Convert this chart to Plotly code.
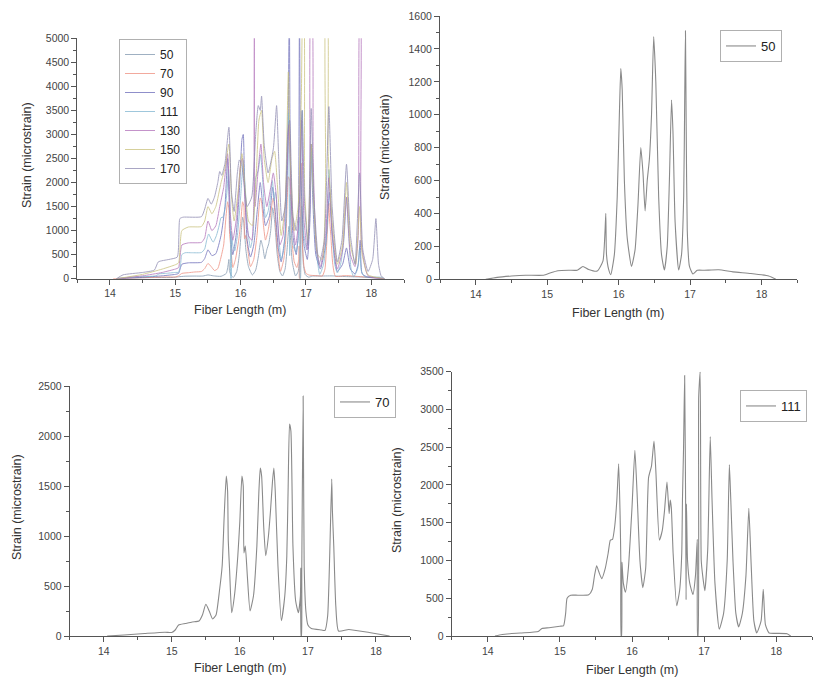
import plotly.graph_objects as go

# ---------------- data ----------------
series_names = ["50", "70", "90", "111", "130", "150", "170"]
series_colors = ["#7f95ad", "#ee8c7c", "#6a6ab8", "#7fb4d0", "#b06fb8", "#c8c07a", "#8c88b0"]

fiber_50 = [(14.14,0),(14.3,12),(14.5,20),(14.7,25),(14.95,25),(15.05,40),(15.15,52),(15.3,55),(15.42,55),
    (15.5,78),(15.58,60),(15.7,50),(15.78,110),(15.81,300),(15.82,400),(15.83,150),(15.86,60),(15.89,28),
    (15.94,150),(15.98,500),(16.01,1000),(16.03,1280),(16.05,1150),(16.08,600),(16.12,250),(16.18,78),
    (16.23,180),(16.27,450),(16.31,800),(16.34,650),(16.37,415),(16.40,600),(16.43,730),(16.46,1000),
    (16.49,1475),(16.52,1200),(16.56,500),(16.60,150),(16.64,57),(16.68,200),(16.71,600),(16.74,1090),
    (16.76,900),(16.79,350),(16.84,57),(16.88,150),(16.91,500),(16.925,1120),(16.935,1510),(16.945,940),
    (16.96,300),(16.99,80),(17.04,32),(17.1,55),(17.2,55),(17.4,58),(17.6,45),(17.85,35),(18.1,20),(18.2,0)]

fiber_70 = [(14.05,0),(14.3,10),(14.6,25),(14.9,38),(15.0,35),(15.05,60),(15.1,110),(15.2,125),(15.3,140),
    (15.4,150),(15.45,210),(15.5,317),(15.55,250),(15.6,170),(15.65,210),(15.7,450),(15.74,700),(15.77,1200),
    (15.80,1600),(15.82,1450),(15.83,950),(15.85,650),(15.88,233),(15.92,400),(15.97,800),(16.0,1150),
    (16.03,1600),(16.05,1500),(16.06,830),(16.08,900),(16.11,600),(16.15,250),(16.2,400),(16.25,900),
    (16.28,1450),(16.30,1680),(16.32,1600),(16.35,1100),(16.38,803),(16.42,1000),(16.45,1250),(16.48,1550),
    (16.50,1680),(16.52,1450),(16.56,700),(16.61,153),(16.66,400),(16.69,800),(16.71,1500),(16.73,2120),
    (16.75,2050),(16.78,900),(16.82,350),(16.86,233),(16.89,400),(16.895,680),(16.90,0),(16.905,0),
    (16.91,650),(16.93,2400),(16.945,700),(16.97,250),(17.0,110),(17.05,75),(17.2,60),(17.25,55),(17.29,200),
    (17.32,800),(17.35,1570),(17.36,1250),(17.38,900),(17.41,300),(17.45,50),(17.6,65),(17.9,35),(18.2,0)]

fiber_90 = [(14.1,0),(14.5,30),(14.8,60),(15.0,90),(15.05,110),(15.1,300),(15.2,330),(15.4,340),(15.45,420),
    (15.5,600),(15.56,480),(15.62,520),(15.7,900),(15.76,1500),(15.8,2500),(15.84,1000),(15.88,500),(15.93,900),
    (15.98,1800),(16.02,2900),(16.04,3000),(16.06,2000),(16.1,800),(16.15,450),(16.2,700),(16.26,1500),
    (16.3,2000),(16.34,1500),(16.38,1100),(16.44,1300),(16.49,1900),(16.53,1400),(16.58,600),(16.62,350),
    (16.68,900),(16.72,2500),(16.745,5600),(16.76,2500),(16.8,900),(16.85,500),(16.88,900),(16.9,5600),
    (16.915,2500),(16.93,1800),(16.97,700),(17.02,400),(17.06,1200),(17.08,2800),(17.1,1800),(17.15,500),
    (17.22,200),(17.3,700),(17.34,1500),(17.36,1800),(17.4,900),(17.48,150),(17.56,300),(17.62,640),
    (17.68,200),(17.75,100),(17.8,300),(17.83,800),(17.86,100),(17.95,30),(18.2,0)]

fiber_111 = [(14.10,0),(14.20,20),(14.45,40),(14.70,60),(14.75,100),(14.85,110),(15.00,130),(15.05,135),
    (15.08,300),(15.10,500),(15.15,540),(15.25,540),(15.40,545),(15.45,620),(15.48,800),(15.51,930),(15.54,850),
    (15.58,760),(15.63,900),(15.67,1100),(15.70,1270),(15.73,1280),(15.76,1450),(15.79,1800),(15.815,2280),
    (15.835,1600),(15.845,1000),(15.85,0),(15.855,0),(15.86,980),(15.88,700),(15.91,580),(15.95,900),
    (16.00,1700),(16.04,2460),(16.07,1900),(16.11,1000),(16.15,640),(16.19,900),(16.23,2100),(16.27,2250),
    (16.305,2580),(16.33,2200),(16.38,1270),(16.42,1400),(16.45,1650),(16.485,2040),(16.515,1620),(16.53,1800),
    (16.545,1700),(16.57,1100),(16.62,400),(16.66,600),(16.69,1100),(16.70,1820),(16.715,2500),(16.73,3450),
    (16.745,1500),(16.75,480),(16.755,1750),(16.77,1000),(16.80,700),(16.845,550),(16.88,800),(16.905,1280),
    (16.91,0),(16.915,0),(16.925,3170),(16.945,3500),(16.96,1000),(16.98,800),(17.01,600),(17.05,1150),
    (17.085,2640),(17.11,1800),(17.15,700),(17.21,90),(17.27,300),(17.32,1000),(17.35,2270),(17.37,1800),
    (17.40,1000),(17.44,300),(17.48,120),(17.53,300),(17.58,800),(17.62,1690),(17.65,1000),(17.69,200),
    (17.73,40),(17.79,200),(17.82,620),(17.85,150),(17.90,40),(18.00,35),(18.15,30),(18.20,0)]

fiber_130 = [(14.1,0),(14.5,60),(14.8,130),(15.0,200),(15.05,230),(15.1,700),(15.2,745),(15.4,755),(15.45,850),
    (15.5,1200),(15.56,1000),(15.62,1100),(15.68,1500),(15.74,1900),(15.8,2600),(15.84,1400),(15.88,800),
    (15.94,1300),(16.0,2400),(16.03,2500),(16.07,1500),(16.12,900),(16.17,800),(16.2,1500),(16.21,5600),
    (16.22,1500),(16.27,2300),(16.31,2800),(16.35,2000),(16.4,1500),(16.46,1900),(16.5,2200),(16.54,1800),
    (16.6,700),(16.65,900),(16.7,2000),(16.74,3200),(16.78,1500),(16.84,700),(16.89,1200),(16.93,3300),
    (16.97,1200),(17.02,600),(17.06,1500),(17.075,5600),(17.09,5600),(17.11,2500),(17.16,600),(17.22,250),
    (17.3,900),(17.35,2100),(17.4,1000),(17.48,200),(17.56,600),(17.62,1700),(17.68,500),(17.75,250),
    (17.8,900),(17.825,5600),(17.835,5600),(17.85,700),(17.95,60),(18.2,0)]

fiber_150 = [(14.1,0),(14.5,90),(14.8,200),(15.0,290),(15.05,330),(15.1,1000),(15.2,1075),(15.4,1085),
    (15.45,1200),(15.5,1500),(15.56,1350),(15.62,1500),(15.7,2000),(15.76,2300),(15.82,2800),(15.86,1700),
    (15.9,1200),(15.96,1800),(16.02,2600),(16.06,2000),(16.12,1200),(16.18,1100),(16.24,2200),(16.28,3300),
    (16.32,3500),(16.36,2500),(16.42,2000),(16.48,2500),(16.52,2650),(16.56,2000),(16.62,900),(16.68,1500),
    (16.73,4300),(16.76,2500),(16.82,1000),(16.88,1500),(16.93,3900),(16.955,5600),(16.965,5600),(16.98,1800),
    (17.03,800),(17.08,2800),(17.12,1500),(17.18,500),(17.25,400),(17.3,2000),(17.305,5600),(17.325,5600),
    (17.34,2600),(17.4,1200),(17.48,300),(17.56,700),(17.62,2000),(17.68,700),(17.76,300),(17.82,1500),
    (17.86,500),(17.95,80),(18.2,0)]

fiber_170 = [(14.1,0),(14.2,80),(14.5,130),(14.68,180),(14.74,350),(14.9,400),(15.03,450),(15.07,1250),
    (15.12,1280),(15.4,1290),(15.45,1450),(15.5,1670),(15.55,1550),(15.6,1700),(15.65,2000),(15.68,2230),
    (15.71,2150),(15.76,2400),(15.82,3150),(15.86,1800),(15.9,1400),(15.95,2200),(15.98,2470),(16.01,2400),
    (16.05,2000),(16.1,1500),(16.17,1700),(16.23,3000),(16.27,3600),(16.3,3500),(16.32,3800),(16.36,2800),
    (16.42,2200),(16.5,2700),(16.55,3600),(16.58,2600),(16.63,1200),(16.68,1500),(16.72,3000),(16.75,3300),
    (16.8,1300),(16.85,1000),(16.9,1600),(16.94,3500),(16.98,1500),(17.03,700),(17.08,3540),(17.12,1700),
    (17.2,300),(17.28,800),(17.35,3580),(17.4,1500),(17.48,350),(17.55,800),(17.62,2380),(17.68,900),
    (17.75,300),(17.82,2200),(17.87,600),(17.95,150),(18.02,400),(18.07,1250),(18.11,300),(18.15,60),(18.2,0)]

all_series = [fiber_50, fiber_70, fiber_90, fiber_111, fiber_130, fiber_150, fiber_170]

x_ticks = [14, 15, 16, 17, 18]
x_range = [13.5, 18.5]
x_title = "Fiber Length (m)"
y_title = "Strain (microstrain)"

# ---------------- figure ----------------
W, H = 826, 683
FONT = "Liberation Sans, Arial, sans-serif"
AX = "#555555"
GRAY = "#8a8a8a"

fig = go.Figure()

# overlay panel (top-left)
for name, col, pts in zip(series_names, series_colors, all_series):
    xs, ys = zip(*pts)
    fig.add_trace(go.Scatter(x=xs, y=ys, mode="lines", name=name, legend="legend",
                             line=dict(color=col, width=1, shape="spline", smoothing=0.5),
                             opacity=0.75, xaxis="x", yaxis="y"))

# single panels
singles = [("50", fiber_50, "x2", "y2", "legend2"),
           ("70", fiber_70, "x3", "y3", "legend3"),
           ("111", fiber_111, "x4", "y4", "legend4")]
for name, pts, xa, ya, lg in singles:
    xs, ys = zip(*pts)
    fig.add_trace(go.Scatter(x=xs, y=ys, mode="lines", name=name, legend=lg,
                             line=dict(color=GRAY, width=1.1, shape="spline", smoothing=0.5),
                             xaxis=xa, yaxis=ya))


def px_x(p):
    return p / W


def px_y(p):
    return 1 - p / H


def xaxis(domain, anchor):
    return dict(domain=domain, anchor=anchor, range=x_range, tickvals=x_ticks,
                ticks="outside", ticklen=5, tickwidth=1, tickcolor=AX,
                showline=True, linecolor=AX, linewidth=1, showgrid=False, zeroline=False,
                minor=dict(tickvals=[13.5, 14.5, 15.5, 16.5, 17.5, 18.5], ticks="outside",
                           ticklen=3, tickcolor=AX),
                tickfont=dict(size=10.5, color="#444", family=FONT))


def yaxis(domain, anchor, top, step, minor):
    return dict(domain=domain, anchor=anchor, range=[0, top], dtick=step, tick0=0,
                ticks="outside", ticklen=5, tickwidth=1, tickcolor=AX,
                showline=True, linecolor=AX, linewidth=1, showgrid=False, zeroline=False,
                minor=dict(dtick=minor, ticks="outside", ticklen=3, tickcolor=AX),
                tickfont=dict(size=10.5, color="#444", family=FONT))


def legend_style(size):
    return dict(bgcolor="white", bordercolor="#b0b0b0", borderwidth=1,
                font=dict(size=size, color="#222", family=FONT),
                xanchor="left", yanchor="top", itemwidth=30, tracegroupgap=0)


fig.update_layout(
    width=W, height=H, margin=dict(l=0, r=0, t=0, b=0, autoexpand=False),
    paper_bgcolor="white", plot_bgcolor="white",
    font=dict(family=FONT),
    xaxis=xaxis([px_x(77.3), px_x(404)], "y"),
    yaxis=yaxis([px_y(278.7), px_y(38.3)], "x", 5000, 500, 250),
    xaxis2=xaxis([px_x(440), px_x(797.3)], "y2"),
    yaxis2=yaxis([px_y(279.3), px_y(16)], "x2", 1600, 200, 100),
    xaxis3=xaxis([px_x(69.7), px_x(410)], "y3"),
    yaxis3=yaxis([px_y(636), px_y(386)], "x3", 2500, 500, 250),
    xaxis4=xaxis([px_x(451.7), px_x(812.3)], "y4"),
    yaxis4=yaxis([px_y(636), px_y(371.7)], "x4", 3500, 500, 250),
    legend=dict(x=px_x(119), y=px_y(39), **legend_style(12)),
    legend2=dict(x=px_x(720), y=px_y(30), **legend_style(13)),
    legend3=dict(x=px_x(334), y=px_y(386), **legend_style(13)),
    legend4=dict(x=px_x(740), y=px_y(390), **legend_style(13)),
)

# axis titles
title_font = dict(size=12.5, color="#333", family=FONT)
xt = [(240, 310), (618, 313), (240, 668), (632, 670)]
yt = [(27, 155), (385, 147), (17, 507), (397, 500)]
for (cx, cy) in xt:
    fig.add_annotation(x=px_x(cx), y=px_y(cy), xref="paper", yref="paper", text=x_title,
                       showarrow=False, font=title_font, xanchor="center", yanchor="middle")
for (cx, cy) in yt:
    fig.add_annotation(x=px_x(cx), y=px_y(cy), xref="paper", yref="paper", text=y_title,
                       showarrow=False, font=title_font, textangle=-90,
                       xanchor="center", yanchor="middle")

fig.write_html("out.html", config={"displayModeBar": False},
               post_script="document.body.style.margin='0';document.body.style.overflow='hidden';")
